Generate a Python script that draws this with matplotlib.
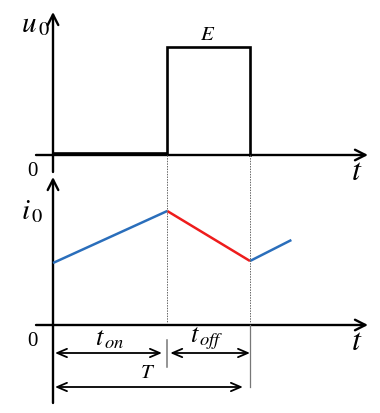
import matplotlib
matplotlib.use("Agg")
import matplotlib.pyplot as plt

plt.rcParams['mathtext.fontset'] = 'stix'
plt.rcParams['font.family'] = ['Liberation Serif', 'DejaVu Serif']

# ---- data (time normalised to period T = 1) ----
t_on = 0.58
T = 1.0
u_t = [0, t_on, t_on, T, T]
u_v = [0.02, 0.02, 1.0, 1.0, 0.0]
i_t = [0, t_on, T, 1.21]
i_v = [0.62, 1.14, 0.64, 0.85]
seg_colors = ['#2a6ebb', '#ee1c1c', '#2a6ebb']

W, H = 380, 413
fig = plt.figure(figsize=(W / 100, H / 100), dpi=100)
fig.patch.set_facecolor('white')

# axes in pixel space for decoration
pix = fig.add_axes([0, 0, 1, 1])
pix.set_xlim(0, W); pix.set_ylim(H, 0); pix.axis('off')

# data axes (full figure, transparent)
x0, xs = 53, 197.0          # pixel of t=0, pixels per unit t
xlim = (-x0 / xs, (W - x0) / xs)
ax_u = fig.add_axes([0, 0, 1, 1], facecolor='none')
ax_u.set_xlim(*xlim); ax_u.set_ylim(-(H - 155) / 108, 155 / 108); ax_u.axis('off')
ax_i = fig.add_axes([0, 0, 1, 1], facecolor='none')
ax_i.set_xlim(*xlim); ax_i.set_ylim(-(H - 325) / 100, 325 / 100); ax_i.axis('off')

ap = dict(arrowstyle='->,head_length=0.75,head_width=0.38', lw=1.7, color='black',
          shrinkA=0, shrinkB=0)
# coordinate axes
pix.annotate('', xy=(53, 12), xytext=(53, 172), arrowprops=ap)
pix.annotate('', xy=(53, 177), xytext=(53, 403), arrowprops=ap)
pix.annotate('', xy=(368, 155), xytext=(36, 155), arrowprops=ap)
pix.annotate('', xy=(368, 325), xytext=(36, 325), arrowprops=ap)

# waveforms
ax_u.plot(u_t, u_v, color='black', lw=1.9, solid_joinstyle='miter')
for k in range(len(i_t) - 1):
    ax_i.plot(i_t[k:k + 2], i_v[k:k + 2], color=seg_colors[k], lw=1.8,
              solid_capstyle='butt')

# guide lines
for tt in (t_on, T):
    ax_i.plot([tt, tt], [1.70, 0.03], color='#666666', lw=0.7, ls=(0, (1.5, 1.2)))
ax_i.plot([T, T], [0.0, -0.62], color='#777777', lw=0.9)
ax_i.plot([t_on, t_on], [-0.15, -0.42], color='#777777', lw=1.1)

# dimension arrows
dp = dict(arrowstyle='<->,head_length=0.7,head_width=0.3', lw=1.3, color='black',
          shrinkA=0, shrinkB=0)
ax_i.annotate('', xy=(0.01, -0.28), xytext=(t_on - 0.027, -0.28), arrowprops=dp)
ax_i.annotate('', xy=(t_on + 0.015, -0.28), xytext=(T, -0.28), arrowprops=dp)
ax_i.annotate('', xy=(0.01, -0.62), xytext=(T - 0.036, -0.62), arrowprops=dp)

# labels
pix.text(35, 25, r'$u_{\,\mathrm{0}}$', fontsize=21, ha='center', va='center')
pix.text(208, 36, r'$E$', fontsize=15, ha='center', va='center')
pix.text(32, 171, '0', fontsize=15, ha='center', va='center')
pix.text(357, 172, r'$t$', fontsize=23, ha='center', va='center')
pix.text(32, 212, r'$i_{\,\mathrm{0}}$', fontsize=21, ha='center', va='center')
pix.text(32, 341, '0', fontsize=15, ha='center', va='center')
pix.text(357, 342, r'$t$', fontsize=23, ha='center', va='center')
pix.text(110, 340, r'$t_{\,on}$', fontsize=19, ha='center', va='center')
pix.text(207, 339, r'$t_{\,off}$', fontsize=19, ha='center', va='center')
pix.text(148, 373, r'$T$', fontsize=15, ha='center', va='center')

fig.savefig('out.png', dpi=100)
